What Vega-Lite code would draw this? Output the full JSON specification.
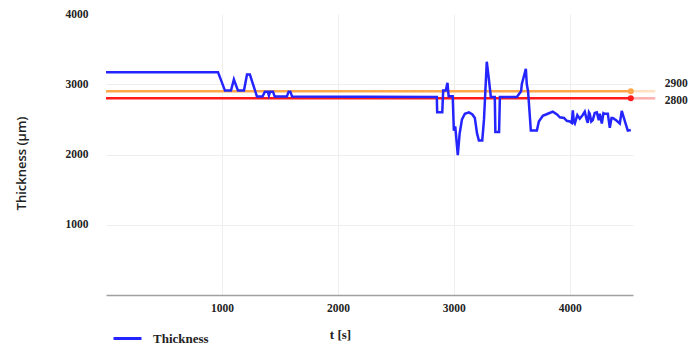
{
  "$schema": "https://vega.github.io/schema/vega-lite/v6.json",
  "width": 527,
  "height": 281,
  "autosize": {"type": "none"},
  "padding": {"left": 106, "top": 14, "right": 64, "bottom": 50},
  "background": "white",
  "config": {
    "view": {"stroke": null},
    "axis": {"ticks": false, "gridColor": "#eeeeee", "gridWidth": 1}
  },
  "datasets": {
    "thick": [
      {"t": 0, "v": 3172}, {"t": 966, "v": 3172}, {"t": 1026, "v": 2910}, {"t": 1078, "v": 2910}, {"t": 1103, "v": 3068}, {"t": 1138, "v": 2910}, {"t": 1190, "v": 2910}, {"t": 1216, "v": 3138}, {"t": 1241, "v": 3138}, {"t": 1302, "v": 2825},
      {"t": 1350, "v": 2825}, {"t": 1370, "v": 2895}, {"t": 1395, "v": 2895}, {"t": 1405, "v": 2840}, {"t": 1415, "v": 2895}, {"t": 1440, "v": 2895}, {"t": 1455, "v": 2825},
      {"t": 1560, "v": 2825}, {"t": 1575, "v": 2895}, {"t": 1590, "v": 2895}, {"t": 1605, "v": 2825},
      {"t": 2853, "v": 2820}, {"t": 2856, "v": 2600}, {"t": 2900, "v": 2600}, {"t": 2908, "v": 2910}, {"t": 2930, "v": 2910}, {"t": 2945, "v": 3020}, {"t": 2955, "v": 2830}, {"t": 2990, "v": 2830},
      {"t": 3000, "v": 2340}, {"t": 3012, "v": 2400}, {"t": 3034, "v": 1990}, {"t": 3050, "v": 2300}, {"t": 3070, "v": 2500}, {"t": 3095, "v": 2580}, {"t": 3130, "v": 2600}, {"t": 3160, "v": 2570}, {"t": 3181, "v": 2520}, {"t": 3200, "v": 2300}, {"t": 3216, "v": 2200}, {"t": 3245, "v": 2200}, {"t": 3260, "v": 2500}, {"t": 3284, "v": 3320}, {"t": 3300, "v": 3100}, {"t": 3319, "v": 2820}, {"t": 3353, "v": 2820}, {"t": 3358, "v": 2320}, {"t": 3390, "v": 2320}, {"t": 3397, "v": 2820}, {"t": 3543, "v": 2820}, {"t": 3580, "v": 2900}, {"t": 3586, "v": 3000}, {"t": 3621, "v": 3220}, {"t": 3629, "v": 3000}, {"t": 3640, "v": 2900}, {"t": 3664, "v": 2340}, {"t": 3716, "v": 2340},
      {"t": 3733, "v": 2470}, {"t": 3767, "v": 2550}, {"t": 3810, "v": 2580}, {"t": 3853, "v": 2610}, {"t": 3890, "v": 2570}, {"t": 3914, "v": 2530}, {"t": 3950, "v": 2520}, {"t": 3974, "v": 2480}, {"t": 4000, "v": 2470}, {"t": 4017, "v": 2450}, {"t": 4026, "v": 2630}, {"t": 4035, "v": 2460}, {"t": 4043, "v": 2440}, {"t": 4065, "v": 2560}, {"t": 4086, "v": 2510}, {"t": 4110, "v": 2560}, {"t": 4129, "v": 2610}, {"t": 4145, "v": 2500}, {"t": 4155, "v": 2450}, {"t": 4165, "v": 2600}, {"t": 4172, "v": 2580}, {"t": 4185, "v": 2470}, {"t": 4198, "v": 2490}, {"t": 4215, "v": 2590}, {"t": 4233, "v": 2600}, {"t": 4250, "v": 2490}, {"t": 4259, "v": 2580}, {"t": 4276, "v": 2440}, {"t": 4290, "v": 2590}, {"t": 4302, "v": 2580}, {"t": 4328, "v": 2580}, {"t": 4345, "v": 2380}, {"t": 4360, "v": 2520}, {"t": 4371, "v": 2520}, {"t": 4405, "v": 2480}, {"t": 4431, "v": 2440}, {"t": 4448, "v": 2620}, {"t": 4474, "v": 2480}, {"t": 4500, "v": 2340}, {"t": 4526, "v": 2350}
    ],
    "limits": [{"level": 2900}, {"level": 2800}]
  },
  "layer": [
    {
      "data": {"name": "limits"},
      "mark": {"type": "rule", "strokeWidth": 2.5},
      "encoding": {
        "x": {"datum": 0, "type": "quantitative", "scale": {"domain": [0, 4545], "nice": false, "zero": false}, "axis": {"values": [1000, 2000, 3000, 4000], "format": "d", "labelFont": "Liberation Serif", "labelFontWeight": "bold", "labelFontSize": 11.5, "labelColor": "#222", "grid": true, "domain": true, "domainColor": "#a0a0a0", "domainWidth": 1.5, "labelPadding": 7, "title": "t [s]", "titleFont": "Liberation Serif", "titleFontWeight": "bold", "titleFontSize": 13, "titleColor": "#222", "titleX": 234, "titleY": 33}},
        "x2": {"datum": 4526},
        "y": {"field": "level", "type": "quantitative", "scale": {"domain": [0, 4000], "nice": false}, "axis": {"values": [1000, 2000, 3000, 4000], "format": "d", "labelFont": "Liberation Serif", "labelFontWeight": "bold", "labelFontSize": 11.5, "labelColor": "#222", "grid": true, "gridOpacity": {"condition": {"test": "datum.value == 4000", "value": 0}, "value": 1}, "domain": false, "labelPadding": 18, "title": "Thickness (µm)", "titleFont": "Open Sans", "titleFontWeight": 600, "titleFontSize": 13, "titleColor": "#222", "titleX": -85, "titleY": 149, "titleBaseline": "middle"}},
        "color": {"field": "level", "type": "nominal", "scale": {"domain": [2900, 2800], "range": ["#ffa54a", "#ff1a1a"]}, "legend": null}
      }
    },
    {
      "data": {"name": "limits"},
      "mark": {"type": "rule", "strokeWidth": 2.5, "opacity": 0.35},
      "encoding": {
        "x": {"datum": 4526, "type": "quantitative"},
        "x2": {"datum": 4737},
        "y": {"field": "level", "type": "quantitative"},
        "color": {"field": "level", "type": "nominal", "legend": null}
      }
    },
    {
      "data": {"name": "limits"},
      "mark": {"type": "point", "filled": true, "size": 36, "opacity": 1},
      "encoding": {
        "x": {"datum": 4526, "type": "quantitative"},
        "y": {"field": "level", "type": "quantitative"},
        "color": {"field": "level", "type": "nominal", "legend": null}
      }
    },
    {
      "data": {"name": "thick"},
      "mark": {"type": "line", "strokeWidth": 2.5, "interpolate": "linear"},
      "encoding": {
        "x": {"field": "t", "type": "quantitative"},
        "y": {"field": "v", "type": "quantitative"},
        "stroke": {"datum": "Thickness", "type": "nominal", "scale": {"domain": ["Thickness"], "range": ["#2424ff"]}, "legend": {"title": null, "orient": "none", "legendX": 6, "legendY": 309, "padding": 0, "symbolType": "stroke", "symbolSize": 784, "symbolStrokeWidth": 3, "labelFont": "Liberation Serif", "labelFontWeight": "bold", "labelFontSize": 13, "labelColor": "#222", "labelOffset": 10}}
      }
    },
    {
      "data": {"name": "limits"},
      "transform": [{"filter": "datum.level == 2900"}],
      "mark": {"type": "text", "align": "left", "dx": 34, "dy": -7, "font": "Liberation Serif", "fontWeight": "bold", "fontSize": 11.5, "color": "#222"},
      "encoding": {
        "x": {"datum": 4526, "type": "quantitative"},
        "y": {"field": "level", "type": "quantitative"},
        "text": {"field": "level", "type": "nominal"}
      }
    },
    {
      "data": {"name": "limits"},
      "transform": [{"filter": "datum.level == 2800"}],
      "mark": {"type": "text", "align": "left", "dx": 34, "dy": 3, "font": "Liberation Serif", "fontWeight": "bold", "fontSize": 11.5, "color": "#222"},
      "encoding": {
        "x": {"datum": 4526, "type": "quantitative"},
        "y": {"field": "level", "type": "quantitative"},
        "text": {"field": "level", "type": "nominal"}
      }
    }
  ]
}
